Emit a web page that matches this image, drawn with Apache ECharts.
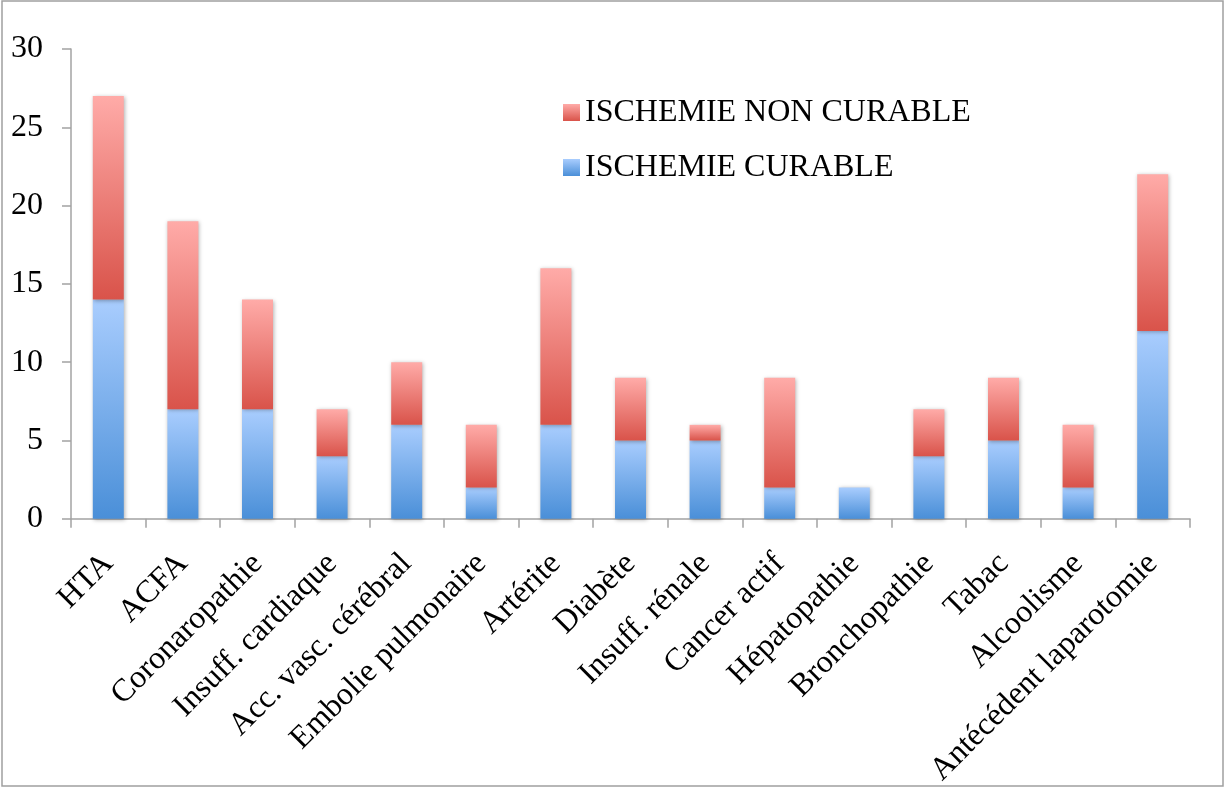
<!DOCTYPE html>
<html>
<head>
<meta charset="utf-8">
<script src="https://cdn.jsdelivr.net/npm/echarts@6/dist/echarts.min.js"></script>
<style>
html,body{margin:0;padding:0;background:#fff;}
#chart{width:1226px;height:789px;}
</style>
</head>
<body>
<div id="chart"></div>
<script>
const categories = ['HTA','ACFA','Coronaropathie','Insuff. cardiaque','Acc. vasc. cérébral','Embolie pulmonaire','Artérite','Diabète','Insuff. rénale','Cancer actif','Hépatopathie','Bronchopathie','Tabac','Alcoolisme','Antécédent laparotomie'];
const curable =    [14, 7, 7, 4, 6, 2, 6, 5, 5, 2, 2, 4, 5, 2, 12];
const nonCurable = [13,12, 7, 3, 4, 4,10, 4, 1, 7, 0, 3, 4, 4, 10];
const yTicks = [0, 5, 10, 15, 20, 25, 30];

const chart = echarts.init(document.getElementById('chart'));
const font = 'Liberation Serif';
const axisColor = '#a3a3a3';
function grad(top, bottom){
  return new echarts.graphic.LinearGradient(0,0,0,1,[{offset:0,color:top},{offset:1,color:bottom}]);
}
const shadow = {shadowBlur:4, shadowColor:'rgba(0,0,0,0.3)', shadowOffsetX:1, shadowOffsetY:1};
chart.setOption({
  animation:false,
  backgroundColor:'#fff',
  graphic:[{type:'rect', shape:{x:2,y:1,width:1221,height:785}, style:{fill:'none', stroke:'#a0a0a0', lineWidth:1.5}, silent:true}],
  grid:{left:71, right:36, top:49, bottom:269, containLabel:false},
  legend:{
    data:['ISCHEMIE NON CURABLE','ISCHEMIE CURABLE'],
    orient:'vertical', left:558, top:90,
    icon:'rect',
    itemWidth:17, itemHeight:17, itemGap:20,
    textStyle:{fontFamily:font, fontSize:32, color:'#000', lineHeight:35}
  },
  xAxis:{
    type:'category', data:categories,
    axisLine:{lineStyle:{color:axisColor, width:1.5}},
    axisTick:{show:true, length:9, alignWithLabel:false, lineStyle:{color:axisColor, width:1.5}},
    axisLabel:{interval:0, rotate:45, margin:40, fontFamily:font, fontSize:32, color:'#000'}
  },
  yAxis:{
    type:'value', min:yTicks[0], max:yTicks[yTicks.length-1], interval:5,
    splitLine:{show:false},
    axisLine:{show:true, lineStyle:{color:axisColor, width:1.5}},
    axisTick:{show:true, length:9, lineStyle:{color:axisColor, width:1.5}},
    axisLabel:{margin:28, fontFamily:font, fontSize:32, color:'#000'}
  },
  series:[
    {name:'ISCHEMIE CURABLE', type:'bar', stack:'a', barWidth:31, data:curable,
     itemStyle:Object.assign({color:grad('#a9cdfe','#4a8fd8')}, shadow)},
    {name:'ISCHEMIE NON CURABLE', type:'bar', stack:'a', barWidth:31, data:nonCurable,
     itemStyle:Object.assign({color:grad('#ffaba8','#d9534a')}, shadow)}
  ]
});
</script>
</body>
</html>
